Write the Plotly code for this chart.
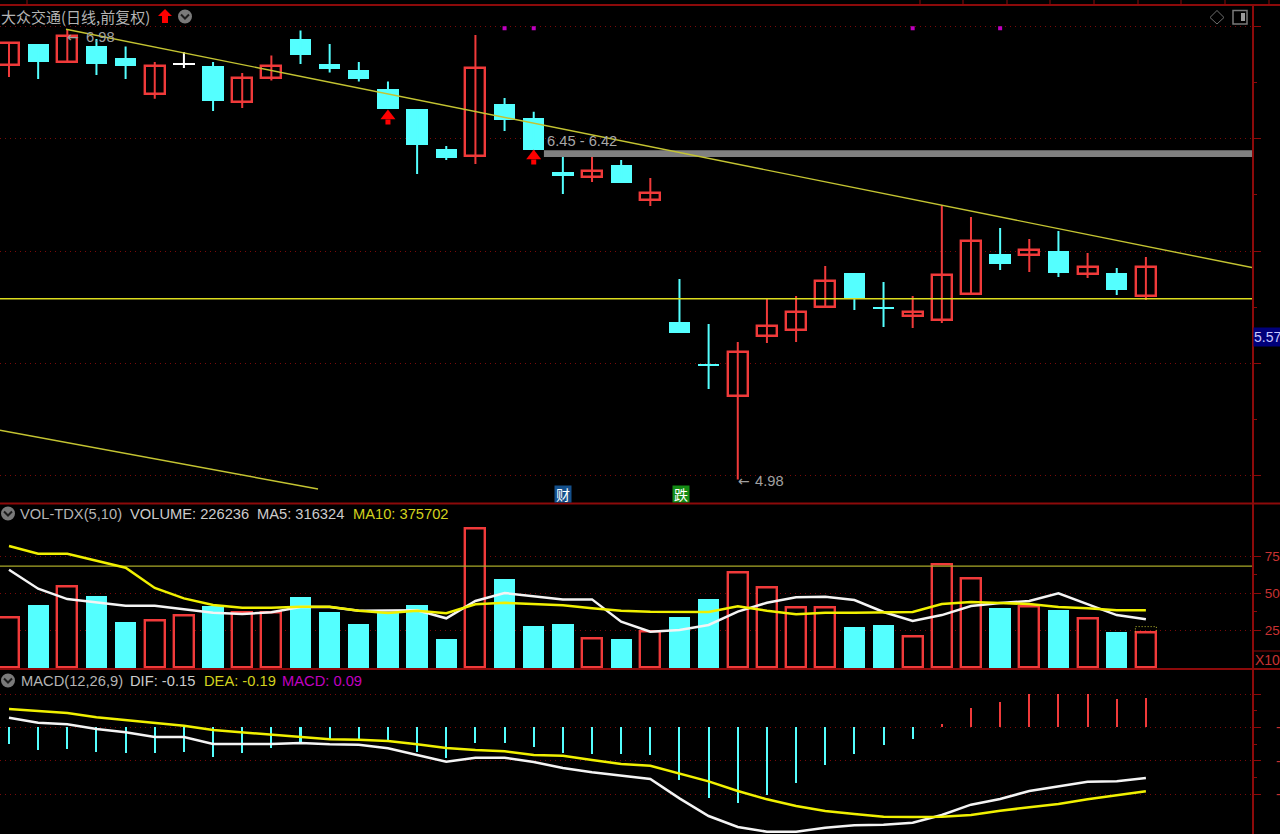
import plotly.graph_objects as go

# ---------- data ----------
IDX = list(range(40))
COLORS = ["R","C","R","C","C","R","W","C","R","R","C","C","C","C","C","C","R","C","C","C",
          "R","C","R","C","C","R","R","R","R","C","C","R","R","R","C","R","C","R","C","R"]
OPEN = [6.830,6.922,6.844,6.913,6.862,6.701,6.840,6.824,6.665,6.770,6.946,6.835,6.808,6.723,6.634,6.455,6.424,6.656,6.594,6.353,
        6.330,6.384,6.228,5.683,5.496,5.353,5.621,5.647,5.750,5.902,5.752,5.710,5.692,5.808,5.987,5.982,6.000,5.897,5.902,5.799]
CLOSE = [6.929,6.844,6.960,6.835,6.824,6.826,6.833,6.670,6.770,6.826,6.875,6.813,6.768,6.634,6.473,6.415,6.815,6.585,6.450,6.335,
         6.357,6.304,6.259,5.634,5.487,5.549,5.665,5.728,5.866,5.790,5.745,5.728,5.893,6.045,5.942,6.004,5.902,5.929,5.826,5.929]
HIGH = [6.933,6.924,6.990,6.946,6.913,6.844,6.888,6.844,6.795,6.873,6.984,6.924,6.844,6.757,6.634,6.469,6.964,6.683,6.621,6.420,
        6.420,6.406,6.326,5.875,5.674,5.594,5.786,5.799,5.933,5.902,5.862,5.799,6.205,6.152,6.103,6.054,6.089,5.991,5.924,5.973]
LOW = [6.777,6.768,6.844,6.786,6.768,6.679,6.817,6.625,6.638,6.761,6.835,6.797,6.757,6.634,6.344,6.406,6.388,6.536,6.450,6.254,
       6.308,6.304,6.201,5.634,5.384,4.980,5.589,5.594,5.750,5.737,5.661,5.656,5.679,5.808,5.915,5.906,5.884,5.879,5.804,5.781]

VOLUME = [33.4,42.4,54.5,48.2,30.6,31.6,34.9,41.9,36.7,37.0,47.5,37.4,29.7,37.0,42.4,19.6,93.7,60.1,28.2,29.7,
          19.1,19.6,24.3,34.0,46.6,64.0,53.6,40.1,40.1,27.2,28.4,20.9,69.6,60.1,39.9,41.2,39.2,32.9,23.9,23.4]
VOL_UP = ["R","C","R","C","C","R","R","C","R","R","C","C","C","C","C","C","R","C","C","C",
          "R","C","R","C","C","R","R","R","R","C","C","R","R","R","C","R","C","R","C","R"]
MA5 = [65.7,52.9,45.9,43.4,41.4,41.4,39.2,36.7,35.8,37.0,40.5,40.5,38.0,38.3,38.3,32.9,44.6,50.0,47.8,45.7,
       45.7,30.6,23.9,25.0,28.4,37.4,43.4,47.1,47.5,45.3,37.2,31.1,35.1,41.2,43.2,44.6,49.8,42.6,35.1,32.2]
MA10 = [81.8,76.6,76.6,71.6,67.1,53.4,46.4,41.9,40.1,40.1,40.7,40.7,38.0,36.5,38.0,36.3,42.4,43.4,42.6,41.7,
        39.7,38.0,37.4,37.4,37.2,41.0,38.0,35.6,36.7,36.7,37.2,37.2,42.6,43.9,43.2,42.6,40.5,39.7,38.3,38.3]

MACD = [-0.050,-0.069,-0.065,-0.073,-0.076,-0.076,-0.073,-0.088,-0.076,-0.061,-0.045,-0.036,-0.036,-0.045,-0.073,-0.091,-0.046,-0.046,-0.058,-0.078,
        -0.080,-0.080,-0.084,-0.159,-0.211,-0.226,-0.204,-0.166,-0.114,-0.080,-0.054,-0.036,0.009,0.057,0.076,0.099,0.099,0.099,0.084,0.088]
DIF = [0.029,0.014,0.009,-0.005,-0.015,-0.029,-0.029,-0.050,-0.050,-0.050,-0.047,-0.051,-0.052,-0.063,-0.083,-0.103,-0.091,-0.091,-0.104,-0.122,
       -0.135,-0.146,-0.155,-0.213,-0.266,-0.299,-0.313,-0.313,-0.301,-0.294,-0.292,-0.286,-0.263,-0.232,-0.215,-0.191,-0.178,-0.163,-0.162,-0.152]
DEA = [0.055,0.048,0.043,0.030,0.022,0.013,0.005,-0.008,-0.015,-0.023,-0.029,-0.036,-0.037,-0.041,-0.051,-0.062,-0.068,-0.072,-0.083,-0.085,
       -0.098,-0.110,-0.115,-0.138,-0.162,-0.191,-0.216,-0.236,-0.251,-0.260,-0.268,-0.269,-0.268,-0.263,-0.250,-0.240,-0.230,-0.216,-0.204,-0.192]

SUPPORT_PRICE = 5.787
VOL_LEVEL = 68.2
TREND_X = [1.955, 42.64]
TREND_Y = [6.99, 5.926]
TREND2_X = [-0.31, 10.6]
TREND2_Y = [5.20, 4.9375]
GAP_X = [18.35, 42.64]
GAP_TOP, GAP_BOTTOM = 6.45, 6.42
SIGNAL_X = [17, 18, 31, 34]
SIGNAL_Y = [6.994, 6.994, 6.994, 6.994]
ARROW_X = [13, 18]
ARROW_HEAD_Y = [6.603, 6.424]
ARROW_STEM_Y = [6.576, 6.397]
VOL_TICKS = [25, 50, 75]
PRICE_TICKS = [5.0, 5.5, 6.0, 6.5, 7.0]
PRICE_MINOR = [5.25, 5.75, 6.25, 6.75]
MACD_TICKS = [-0.2, -0.1, 0.0, 0.1]
MACD_MINOR = [-0.15, -0.05, 0.05]
VOL_MINOR = [37.5, 62.5]
TOP_TICKS_PX = [27, 920, 963, 1007, 1050, 1094, 1138, 1181, 1225, 1269]

RED, CYAN, WHITE = "#f03a3a", "#54ffff", "#ffffff"
AXIS = "#8c0a0a"
GRID = "#7a0a0a"
LABEL = "#b4b4b4"
W, H = 1280, 834
def px(x): return x / W
def py(y): return 1 - y / H

fig = go.Figure()

def wicks(kind, color):
    xs, ys = [], []
    for i in IDX:
        if COLORS[i] == kind:
            xs += [i, i, None]
            ys += [LOW[i], HIGH[i], None]
    fig.add_trace(go.Scatter(x=xs, y=ys, mode="lines", line=dict(color=color, width=2), hoverinfo="skip"))

def bodies(kind, color):
    ii = [i for i in IDX if COLORS[i] == kind]
    base = [min(OPEN[i], CLOSE[i]) for i in ii]
    hgt = [abs(CLOSE[i] - OPEN[i]) for i in ii]
    if kind == "R":
        marker = dict(color="#000000", line=dict(color=color, width=2.4))
        width = 0.69
    else:
        marker = dict(color=color, line=dict(width=0))
        width = 0.73
    fig.add_trace(go.Bar(x=ii, y=hgt, base=base, width=width, marker=marker, hoverinfo="skip"))

# gap band
fig.add_trace(go.Scatter(x=[GAP_X[0], GAP_X[1], GAP_X[1], GAP_X[0], GAP_X[0]],
                         y=[GAP_BOTTOM, GAP_BOTTOM, GAP_TOP, GAP_TOP, GAP_BOTTOM],
                         mode="lines", fill="toself", fillcolor="#808080", line=dict(width=0), hoverinfo="skip"))
for k, c in (("R", RED), ("C", CYAN), ("W", WHITE)):
    wicks(k, c)
for k, c in (("R", RED), ("C", CYAN), ("W", WHITE)):
    bodies(k, c)

# main-pane lines
fig.add_trace(go.Scatter(x=[-0.31, 42.64], y=[SUPPORT_PRICE, SUPPORT_PRICE], mode="lines",
                         line=dict(color="#dcdc1e", width=1.5), hoverinfo="skip"))
fig.add_trace(go.Scatter(x=TREND_X, y=TREND_Y, mode="lines", line=dict(color="#c4c432", width=1.4), hoverinfo="skip"))
fig.add_trace(go.Scatter(x=TREND2_X, y=TREND2_Y, mode="lines", line=dict(color="#c4c432", width=1.4), hoverinfo="skip"))
fig.add_trace(go.Scatter(x=SIGNAL_X, y=SIGNAL_Y, mode="markers",
                         marker=dict(symbol="square", size=4, color="#c000c0"), hoverinfo="skip"))
fig.add_trace(go.Scatter(x=ARROW_X, y=ARROW_STEM_Y, mode="markers",
                         marker=dict(symbol="square", size=5, color="#ff0000"), hoverinfo="skip"))
fig.add_trace(go.Scatter(x=ARROW_X, y=ARROW_HEAD_Y, mode="markers",
                         marker=dict(symbol="triangle-up", size=13, color="#ff0000"), hoverinfo="skip"))

# volume pane
vr = [i for i in IDX if VOL_UP[i] == "R"]
vc = [i for i in IDX if VOL_UP[i] == "C"]
fig.add_trace(go.Bar(x=vc, y=[VOLUME[i] for i in vc], width=0.73, yaxis="y2",
                     marker=dict(color=CYAN, line=dict(width=0)), hoverinfo="skip"))
fig.add_trace(go.Bar(x=vr, y=[VOLUME[i] for i in vr], width=0.69, yaxis="y2",
                     marker=dict(color="#000000", line=dict(color=RED, width=2.4)), hoverinfo="skip"))
fig.add_trace(go.Scatter(x=[38.64, 38.64, 39.36, 39.36], y=[VOLUME[39], 27.3, 27.3, VOLUME[39]], yaxis="y2",
                         mode="lines", line=dict(color="#c4c432", width=1, dash="1px,2px"), hoverinfo="skip"))
fig.add_trace(go.Scatter(x=[-0.31, 42.64], y=[VOL_LEVEL, VOL_LEVEL], yaxis="y2", mode="lines",
                         line=dict(color="#a8a828", width=1.3), hoverinfo="skip"))
fig.add_trace(go.Scatter(x=IDX, y=MA5, yaxis="y2", mode="lines", line=dict(color="#f4f4f4", width=2.5), hoverinfo="skip"))
fig.add_trace(go.Scatter(x=IDX, y=MA10, yaxis="y2", mode="lines", line=dict(color="#f0f000", width=2.5), hoverinfo="skip"))

# MACD pane
for sel, color in ((lambda v: v < 0, CYAN), (lambda v: v >= 0, RED)):
    ii = [i for i in IDX if sel(MACD[i])]
    fig.add_trace(go.Bar(x=ii, y=[MACD[i] for i in ii], width=0.07, yaxis="y3",
                         marker=dict(color=color, line=dict(width=0)), hoverinfo="skip"))
fig.add_trace(go.Scatter(x=IDX, y=DIF, yaxis="y3", mode="lines", line=dict(color="#f4f4f4", width=2.5), hoverinfo="skip"))
fig.add_trace(go.Scatter(x=IDX, y=DEA, yaxis="y3", mode="lines", line=dict(color="#f0f000", width=2.5), hoverinfo="skip"))

def yaxis(dom, rng, ticks, minor, labels=None):
    return dict(domain=dom, range=rng, side="right", anchor="x", showline=True, linecolor=AXIS, linewidth=2,
                zeroline=False, showgrid=True, gridcolor=GRID, griddash="1px,4px", gridwidth=1,
                tickmode="array", tickvals=ticks, ticktext=labels or ["" for _ in ticks],
                ticks="outside", ticklen=7, tickwidth=1, tickcolor=AXIS,
                tickfont=dict(family="Liberation Sans", size=13.5, color="#c83232"), ticklabelstandoff=1,
                minor=dict(tickmode="array", tickvals=minor, ticks="outside", ticklen=3, tickcolor=AXIS, tickwidth=1, showgrid=False))

fig.update_layout(
    width=W, height=H, margin=dict(l=0, r=0, t=0, b=0, autoexpand=False), paper_bgcolor="#000000", plot_bgcolor="#000000",
    showlegend=False, barmode="overlay", bargap=0,
    xaxis=dict(domain=[0, 1252 / W], range=[-0.3087, 42.64], visible=False, fixedrange=True),
    yaxis=yaxis([py(503.5), py(5)], [4.873, 7.098], PRICE_TICKS, PRICE_MINOR),
    yaxis2=yaxis([py(669), py(503.5)], [-1.35, 110.5], VOL_TICKS, VOL_MINOR, [str(v) for v in VOL_TICKS]),
    yaxis3=yaxis([0, py(669)], [-0.32, 0.175], MACD_TICKS, MACD_MINOR),
)

# ---------- frame ----------
def hline(y):
    return dict(type="line", xref="paper", yref="paper", x0=0, x1=1, y0=py(y), y1=py(y), line=dict(color=AXIS, width=2))
shapes = [hline(5), hline(503.5), hline(669)]
shapes.append(dict(type="line", xref="paper", yref="paper", x0=px(1252), x1=1, y0=py(651), y1=py(651), line=dict(color=AXIS, width=1)))
for t in TOP_TICKS_PX:
    shapes.append(dict(type="line", xref="paper", yref="paper", x0=px(t), x1=px(t), y0=py(0), y1=py(5), line=dict(color=AXIS, width=1)))

def path_shape(points, fill=None, line=None, width=1):
    d = "M " + " L ".join(f"{px(x):.5f},{py(y):.5f}" for x, y in points)
    if fill:
        d += " Z"
    return dict(type="path", xref="paper", yref="paper", path=d, fillcolor=fill or "rgba(0,0,0,0)",
                line=dict(color=line or "rgba(0,0,0,0)", width=width))

def chevron(cx, cy):
    shapes.append(dict(type="circle", xref="paper", yref="paper", x0=px(cx - 7), x1=px(cx + 7), y0=py(cy + 7), y1=py(cy - 7),
                       fillcolor="#7a7a7a", line=dict(width=0)))
    shapes.append(path_shape([(cx - 4, cy - 2), (cx, cy + 2), (cx + 4, cy - 2)], line="#1c1c1c", width=2))

chevron(185, 16.5)
chevron(8, 513.5)
chevron(8, 680.5)
# title arrow
shapes.append(path_shape([(165, 9), (172, 16), (168, 16), (168, 23), (162, 23), (162, 16), (158, 16)], fill="#ff0000"))
# toolbar icons
shapes.append(path_shape([(1217, 10.5), (1224, 17.5), (1217, 24), (1210, 17.5)], fill="#000000", line="#6e6e6e", width=1))
shapes.append(dict(type="rect", xref="paper", yref="paper", x0=px(1233), x1=px(1247), y0=py(24), y1=py(10.5),
                   line=dict(color="#7a7a7a", width=1.5)))
shapes.append(dict(type="rect", xref="paper", yref="paper", x0=px(1241), x1=px(1245), y0=py(21), y1=py(13),
                   fillcolor="#9a9a9a", line=dict(width=0)))
fig.update_layout(shapes=shapes)

def txt(x, y, s, color=LABEL, size=14.7, family="Liberation Sans", **kw):
    return dict(xref="paper", yref="paper", x=px(x), y=py(y), text=s, showarrow=False, xanchor="left", yanchor="middle",
                font=dict(family=family, size=size, color=color), borderpad=0, **kw)

notes = [
    txt(0, 16.5, "大众交通(日线,前复权)", size=15, family="Noto Sans CJK SC"),
    txt(19, 513.5, "VOL-TDX(5,10)"),
    txt(129, 513.5, "VOLUME: 226236", color="#cccccc"),
    txt(256, 513.5, "MA5: 316324", color="#cccccc"),
    txt(352, 513.5, "MA10: 375702", color="#d2d21e"),
    txt(20, 680.5, "MACD(12,26,9)"),
    txt(129, 680.5, "DIF: -0.15", color="#cccccc"),
    txt(203, 680.5, "DEA: -0.19", color="#d2d21e"),
    txt(281, 680.5, "MACD: 0.09", color="#c000c0"),
    txt(66, 37, "←", color="#a0a0a0", family="DejaVu Sans", size=14),
    txt(85, 37, "6.98", color="#a0a0a0"),
    txt(737, 481, "←", color="#a0a0a0", family="DejaVu Sans", size=14),
    txt(754, 481, "4.98", color="#a0a0a0"),
    txt(546, 141, "6.45 - 6.42", color="#a8a8a8"),
    txt(1254, 660, "X10", color="#c83232", size=14),
    txt(1275, 727, "-", color="#c83232", size=14),
    txt(1275, 761, "-", color="#c83232", size=14),
    txt(1275, 794, "-", color="#c83232", size=14),
    txt(1253, 337.5, "5.57", color="#c8c8ff", size=14, bgcolor="#00007a", width=27, height=18, align="left"),
    txt(554, 493.5, "财", color="#ffffff", size=14, family="Noto Sans CJK SC", bgcolor="#14508c", width=16, height=16),
    txt(672, 493.5, "跌", color="#ffffff", size=14, family="Noto Sans CJK SC", bgcolor="#148c14", width=16, height=16),
]
fig.update_layout(annotations=notes)

fig.write_html("out.html", config=dict(displayModeBar=False),
               post_script="document.body.style.margin='0';document.body.style.background='#000';document.body.style.overflow='hidden';")
